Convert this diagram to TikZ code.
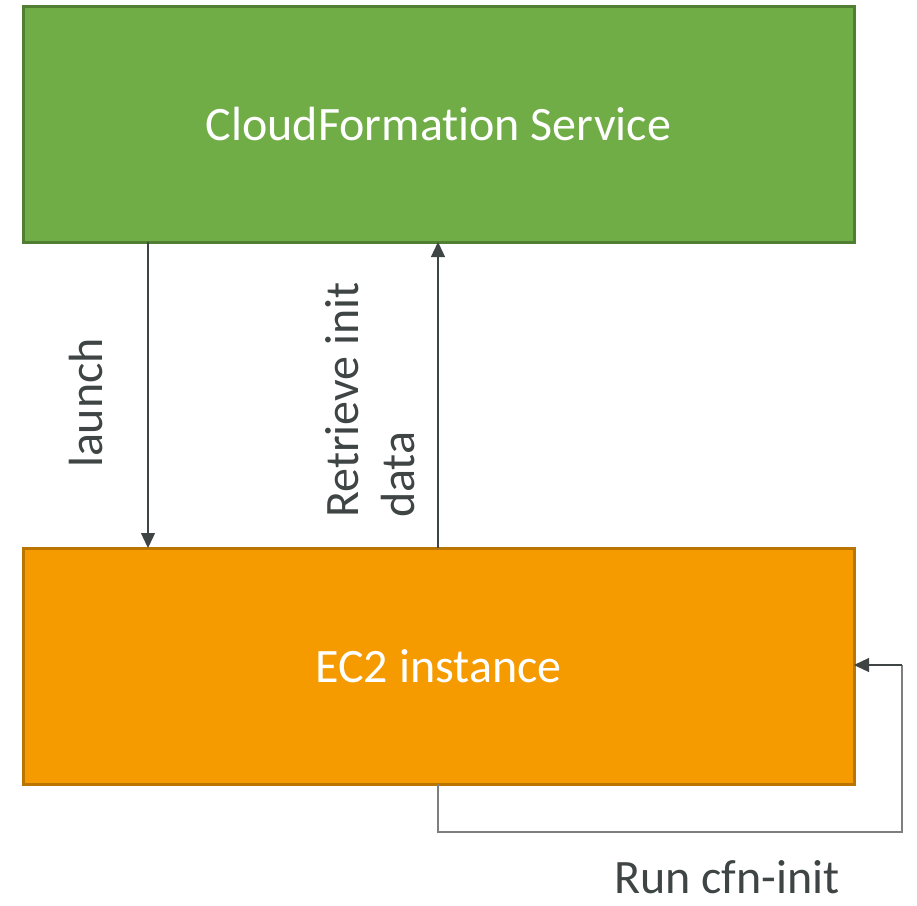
\documentclass[tikz,border=0pt]{standalone}
\usepackage{fontspec}
\setmainfont{Carlito}[Ligatures=NoCommon]
\usetikzlibrary{arrows.meta}
\definecolor{cfngreen}{HTML}{70AD47}
\definecolor{cfnedge}{HTML}{507E32}
\definecolor{ectorange}{HTML}{F59B00}
\definecolor{ectedge}{HTML}{BA7400}
\definecolor{inkgray}{HTML}{3F4444}
\definecolor{loopgray}{HTML}{7F7F7F}
\begin{document}
\begin{tikzpicture}[x=1pt,y=-1pt,line cap=butt,line join=miter,
    font=\fontsize{48}{56}\selectfont,
    svcbox/.style={draw=cfnedge,fill=cfngreen,line width=3pt,minimum width=831pt,minimum height=236pt,inner sep=0pt,text=white},
    ec2box/.style={draw=ectedge,fill=ectorange,line width=3pt,minimum width=831pt,minimum height=236pt,inner sep=0pt,text=white},
    flow/.style={draw=inkgray,line width=1.3pt,-{Triangle[width=14pt,length=15pt]}},
    lbl/.style={text=inkgray,inner sep=0pt}]
    \useasboundingbox (0,0) rectangle (917,905);

    \node[svcbox] (cfn) at (438.5,124) {CloudFormation Service};
    \node[ec2box] (ec2) at (438.5,666) {EC2 instance};

    \coordinate (L1) at (148,242);
    \coordinate (L2) at (148,548);
    \coordinate (R1) at (438,548);
    \coordinate (R2) at (438,242);
    \coordinate (P1) at (438,784);
    \coordinate (P2) at (438,832);
    \coordinate (P3) at (902,832);
    \coordinate (P4) at (902,665);
    \coordinate (P5) at (854,665);

    \draw[flow] (L1)--(L2);
    \draw[flow] (R1)--(R2);
    \draw[draw=loopgray,line width=1.3pt] (P1)--(P2)--(P3)--(P4);
    \draw[flow] (P4)--(P5);

    \node[lbl,rotate=90] (launch) at (86,403) {launch};
    \node[lbl,rotate=90,align=left,anchor=west] (retrieve) at (370,518) {Retrieve init\\data};
    \node[lbl] (runinit) at (727,877) {Run cfn-init};
\end{tikzpicture}
\end{document}
